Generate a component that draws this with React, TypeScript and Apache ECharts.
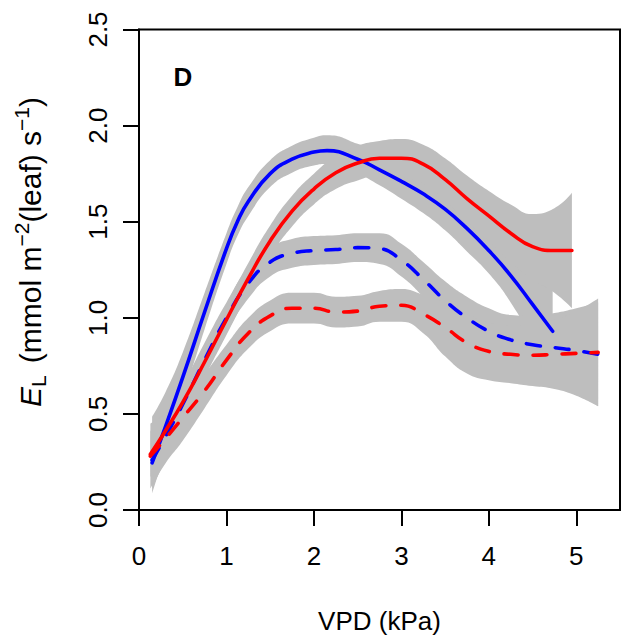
import { useEffect, useRef } from "react";
import * as echarts from "echarts";

const FONT = "'Liberation Sans', Arial, Helvetica, sans-serif";

// axis ticks
const xTicks = [0, 1, 2, 3, 4, 5];
const yTicks = [0, 0.5, 1, 1.5, 2, 2.5];

// Blue solid curve + confidence band
const bsX = [0.15, 0.3, 0.5, 0.75, 1.0, 1.125, 1.25, 1.5, 1.75, 2.0, 2.15, 2.5, 2.75, 3.0, 3.25, 3.5, 3.75, 4.0, 4.25, 4.5, 4.73];
const bsMean = [0.245, 0.43, 0.69, 1.03, 1.36, 1.5, 1.605, 1.75, 1.825, 1.862, 1.87, 1.825, 1.77, 1.71, 1.645, 1.565, 1.465, 1.35, 1.22, 1.07, 0.93];
const bsUpper = [0.485, 0.61, 0.82, 1.13, 1.44, 1.575, 1.68, 1.82, 1.895, 1.937, 1.95, 1.905, 1.855, 1.8, 1.74, 1.665, 1.575, 1.47, 1.36, 1.26, 1.22];
const bsLower = [0.085, 0.3, 0.58, 0.94, 1.28, 1.425, 1.53, 1.68, 1.755, 1.792, 1.8, 1.75, 1.69, 1.62, 1.545, 1.455, 1.345, 1.23, 1.08, 0.88, 0.64];

// Red solid curve + band
const rsX = [0.13, 0.3, 0.5, 0.75, 1.0, 1.25, 1.5, 1.75, 2.0, 2.25, 2.5, 2.75, 3.0, 3.25, 3.5, 3.75, 4.0, 4.25, 4.5, 4.75, 4.95];
const rsMean = [0.29, 0.41, 0.56, 0.77, 0.99, 1.205, 1.4, 1.555, 1.67, 1.755, 1.805, 1.83, 1.83, 1.8, 1.72, 1.62, 1.53, 1.44, 1.37, 1.35, 1.35];
const rsUpper = [0.41, 0.51, 0.65, 0.85, 1.07, 1.285, 1.48, 1.635, 1.75, 1.84, 1.895, 1.92, 1.93, 1.9, 1.83, 1.74, 1.66, 1.59, 1.54, 1.57, 1.65];
const rsLower = [0.17, 0.31, 0.47, 0.69, 0.91, 1.125, 1.32, 1.475, 1.59, 1.67, 1.715, 1.74, 1.73, 1.7, 1.61, 1.5, 1.4, 1.29, 1.2, 1.13, 1.05];

// Blue dashed curve + band
const bdX = [0.15, 0.3, 0.5, 0.75, 1.0, 1.25, 1.5, 1.75, 2.0, 2.25, 2.5, 2.75, 3.0, 3.25, 3.5, 3.75, 4.0, 4.25, 4.5, 4.75, 5.0, 5.25];
const bdMean = [0.26, 0.38, 0.55, 0.78, 1.0, 1.18, 1.29, 1.335, 1.35, 1.355, 1.365, 1.36, 1.3, 1.2, 1.09, 1.0, 0.93, 0.885, 0.86, 0.845, 0.83, 0.81];
const bdUpper = [0.41, 0.5, 0.65, 0.87, 1.08, 1.26, 1.365, 1.41, 1.425, 1.43, 1.44, 1.44, 1.385, 1.29, 1.19, 1.11, 1.05, 1.015, 1.01, 1.025, 1.05, 1.08];
const bdLower = [0.11, 0.26, 0.45, 0.69, 0.92, 1.1, 1.215, 1.26, 1.275, 1.28, 1.29, 1.28, 1.215, 1.11, 0.99, 0.89, 0.81, 0.755, 0.71, 0.665, 0.61, 0.54];

// Red dashed curve + band
const rdX = [0.13, 0.3, 0.5, 0.75, 1.0, 1.25, 1.5, 1.75, 2.0, 2.25, 2.5, 2.75, 3.0, 3.25, 3.5, 3.75, 4.0, 4.25, 4.5, 4.75, 5.0, 5.25];
const rdMean = [0.28, 0.37, 0.48, 0.62, 0.78, 0.92, 1.01, 1.05, 1.05, 1.03, 1.035, 1.06, 1.065, 1.02, 0.95, 0.87, 0.825, 0.81, 0.805, 0.81, 0.815, 0.82];
const rdUpper = [0.45, 0.5, 0.58, 0.71, 0.86, 1.0, 1.09, 1.13, 1.13, 1.11, 1.115, 1.14, 1.15, 1.12, 1.08, 1.02, 0.975, 0.96, 0.965, 0.99, 1.035, 1.1];
const rdLower = [0.11, 0.24, 0.36, 0.53, 0.7, 0.84, 0.93, 0.97, 0.97, 0.95, 0.955, 0.98, 0.98, 0.92, 0.8, 0.71, 0.675, 0.66, 0.645, 0.63, 0.595, 0.54];

const BAND = "#BEBEBE";
const BLUE = "#0000FF";
const RED = "#FF0000";
const SMOOTH = 0.5;

function pairs(xs: number[], ys: number[]) {
  return xs.map((x, i) => [x, ys[i]]);
}

// Band = lower (invisible) + stacked width filled. Value column first so that
// the stack is applied to the y dimension (x axis is a value axis).
function bandSeries(id: string, xs: number[], lo: number[], hi: number[]) {
  const common = {
    type: "line",
    stack: id,
    dimensions: ["v", "x"],
    encode: { x: 1, y: 0 },
    smooth: SMOOTH,
    symbol: "none",
    silent: true,
    z: 1,
  };
  return [
    {
      ...common,
      name: id + "-lo",
      data: xs.map((x, i) => [lo[i], x]),
      lineStyle: { opacity: 0, width: 0 },
    },
    {
      ...common,
      name: id + "-band",
      data: xs.map((x, i) => [hi[i] - lo[i], x]),
      lineStyle: { opacity: 0, width: 0 },
      areaStyle: { color: BAND, opacity: 1 },
    },
  ];
}

function lineSeries(name: string, xs: number[], ys: number[], color: string, dashed: boolean) {
  return {
    type: "line",
    name,
    data: pairs(xs, ys),
    smooth: SMOOTH,
    symbol: "none",
    lineStyle: {
      color,
      width: 3.6,
      cap: "round",
      join: "round",
      type: dashed ? [14, 15] : "solid",
    },
    silent: true,
    z: 3,
  };
}

export default function App() {
  const ref = useRef<HTMLDivElement>(null);
  useEffect(() => {
    const chart = echarts.init(ref.current!, null, { renderer: "svg" });
    const option: any = {
      animation: false,
      backgroundColor: "#FFFFFF",
      grid: {
        left: 139,
        top: 29.5,
        right: 2,
        bottom: 131,
        show: true,
        borderColor: "#000",
        borderWidth: 2,
        backgroundColor: "transparent",
      },
      xAxis: {
        type: "value",
        min: 0,
        max: 5.5,
        interval: 1,
        axisLine: { show: true, lineStyle: { color: "#000", width: 2 } },
        axisTick: {
          show: true,
          inside: false,
          length: 16,
          lineStyle: { color: "#000", width: 2 },
          customValues: xTicks,
        },
        axisLabel: {
          customValues: xTicks,
          color: "#000",
          fontSize: 26,
          fontFamily: FONT,
          margin: 33,
        },
        splitLine: { show: false },
      },
      yAxis: {
        type: "value",
        min: 0,
        max: 2.5,
        interval: 0.5,
        axisLine: { show: true, lineStyle: { color: "#000", width: 2 } },
        axisTick: {
          show: true,
          inside: false,
          length: 16,
          lineStyle: { color: "#000", width: 2 },
          customValues: yTicks,
        },
        axisLabel: {
          customValues: yTicks,
          rotate: 90,
          color: "#000",
          fontSize: 26,
          fontFamily: FONT,
          margin: 28,
          formatter: (v: number) => v.toFixed(1),
        },
        splitLine: { show: false },
      },
      graphic: [
        {
          type: "text",
          x: 183,
          y: 77,
          style: {
            text: "D",
            fill: "#000",
            font: `bold 26px ${FONT}`,
            align: "center",
            verticalAlign: "middle",
          },
        },
        {
          type: "text",
          x: 379.5,
          y: 621,
          style: {
            text: "VPD (kPa)",
            fill: "#000",
            font: `26px ${FONT}`,
            align: "center",
            verticalAlign: "middle",
          },
        },
        {
          type: "text",
          x: 30,
          y: 252,
          rotation: Math.PI / 2,
          style: {
            text: "{e|E}{sub|L}{sp|  }{n|(mmol m}{sup|−2}{n|(leaf) s}{sup|−1}{n|)}",
            fill: "#000",
            align: "center",
            verticalAlign: "middle",
            rich: {
              e: { fontFamily: FONT, fontSize: 30, fontStyle: "italic", lineHeight: 38, fill: "#000" },
              n: { fontFamily: FONT, fontSize: 30, lineHeight: 38, fill: "#000" },
              sp: { fontFamily: FONT, fontSize: 22, lineHeight: 38, fill: "#000" },
              sub: { fontFamily: FONT, fontSize: 21, lineHeight: 25, verticalAlign: "bottom", fill: "#000" },
              sup: { fontFamily: FONT, fontSize: 21, lineHeight: 18, verticalAlign: "top", fill: "#000" },
            },
          },
        },
      ],
      series: [
        ...bandSeries("bs", bsX, bsLower, bsUpper),
        ...bandSeries("rs", rsX, rsLower, rsUpper),
        ...bandSeries("bd", bdX, bdLower, bdUpper),
        ...bandSeries("rd", rdX, rdLower, rdUpper),
        lineSeries("blue solid", bsX, bsMean, BLUE, false),
        lineSeries("blue dashed", bdX, bdMean, BLUE, true),
        lineSeries("red solid", rsX, rsMean, RED, false),
        lineSeries("red dashed", rdX, rdMean, RED, true),
      ],
    };
    chart.setOption(option);
    return () => chart.dispose();
  }, []);
  return (
    <div
      ref={ref}
      style={{ position: "fixed", left: 0, top: 0, width: 622, height: 641 }}
    />
  );
}
